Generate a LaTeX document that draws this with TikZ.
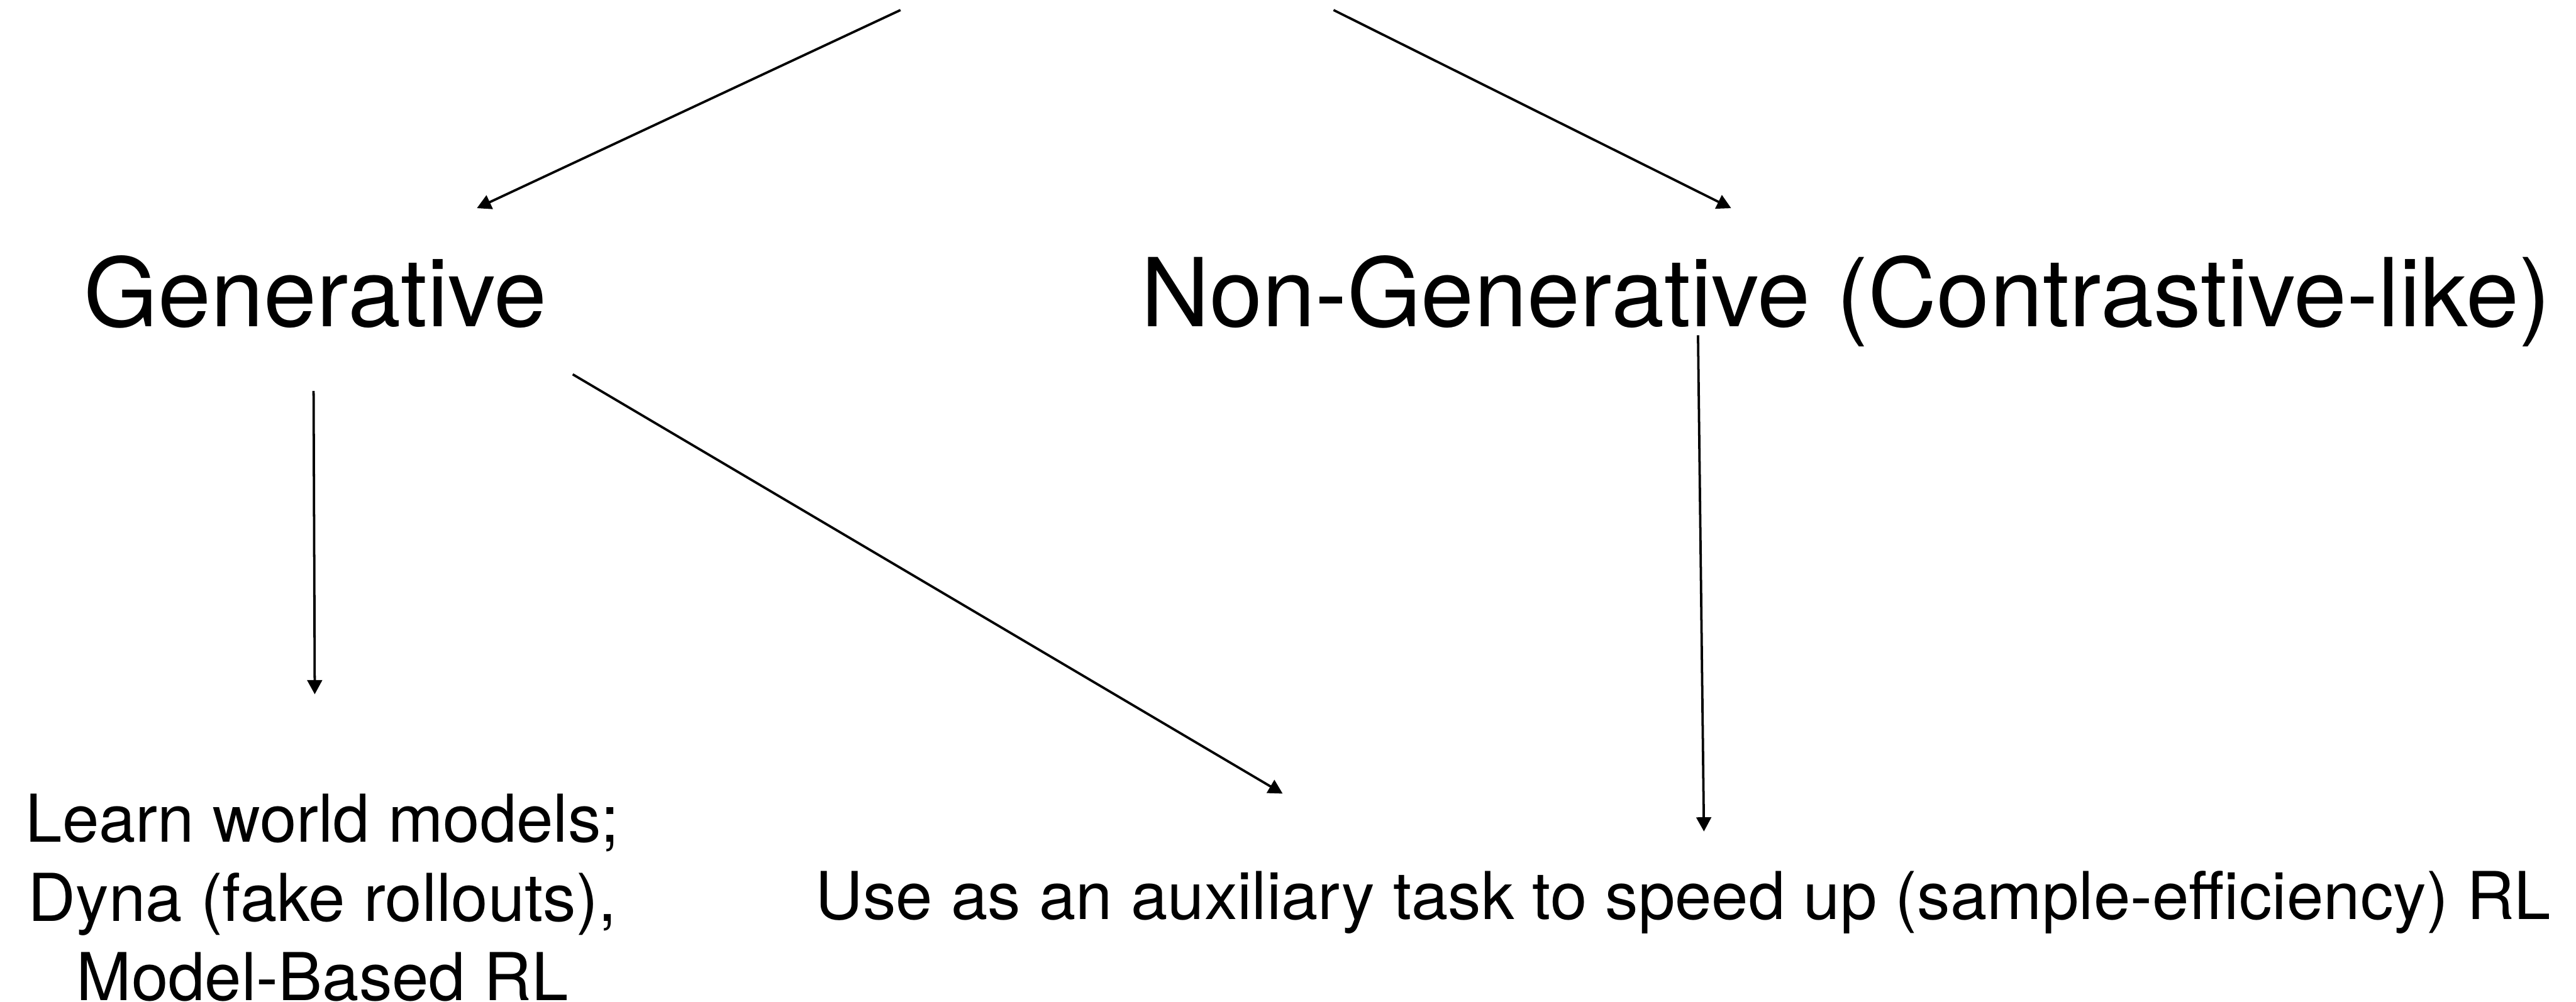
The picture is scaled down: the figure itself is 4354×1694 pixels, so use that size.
\documentclass[tikz,border=0pt]{standalone}
\usepackage{fontspec}
\setmainfont{TeX Gyre Heros}
\usetikzlibrary{arrows.meta,calc}

\tikzset{
  bigtext/.style={inner sep=0pt, font=\fontsize{40.2pt}{48pt}\selectfont},
  smalltext/.style={inner sep=0pt, align=center, font=\fontsize{27.9pt}{33.5pt}\selectfont},
  arr/.style={line width=1pt, -{Triangle[length=6pt,width=6.25pt]}}
}

\begin{document}
\begin{tikzpicture}[x=0.25pt, y=-0.25pt]
  % canvas
  \useasboundingbox (0,0) rectangle (4354,1694);

  % category labels
  \node[bigtext, anchor=base] (gen) at (533,552) {Generative};
  \node[bigtext, anchor=base] (nongen) at (3120,552) {Non-Generative (Contrastive-like)};

  % outcome labels
  \node[smalltext, anchor=north] (learn) at (545,1342)
    {Learn world models;\\Dyna (fake rollouts),\\Model-Based RL};
  \node[smalltext, anchor=base] (use) at (2845,1555)
    {Use as an auxiliary task to speed up (sample-efficiency) RL};

  % branches coming down from above
  \coordinate (rootL) at (1522,17);
  \coordinate (rootR) at (2254,17);
  \draw[arr] (rootL) -- ($(gen.base)+(273,-200)$);
  \draw[arr] (rootR) -- ($(nongen.base)+(-194,-200)$);

  % from the categories to their uses
  \draw[arr] ($(gen.base)+(-3,109)$) -- ($(learn.north)+(-13,-168)$);
  \draw[arr] ($(gen.base)+(435,81)$) -- ($(use.base)+(-677,-213)$);
  \draw[arr] ($(nongen.base)+(-250,15)$) -- ($(use.base)+(35,-149)$);
\end{tikzpicture}
\end{document}
